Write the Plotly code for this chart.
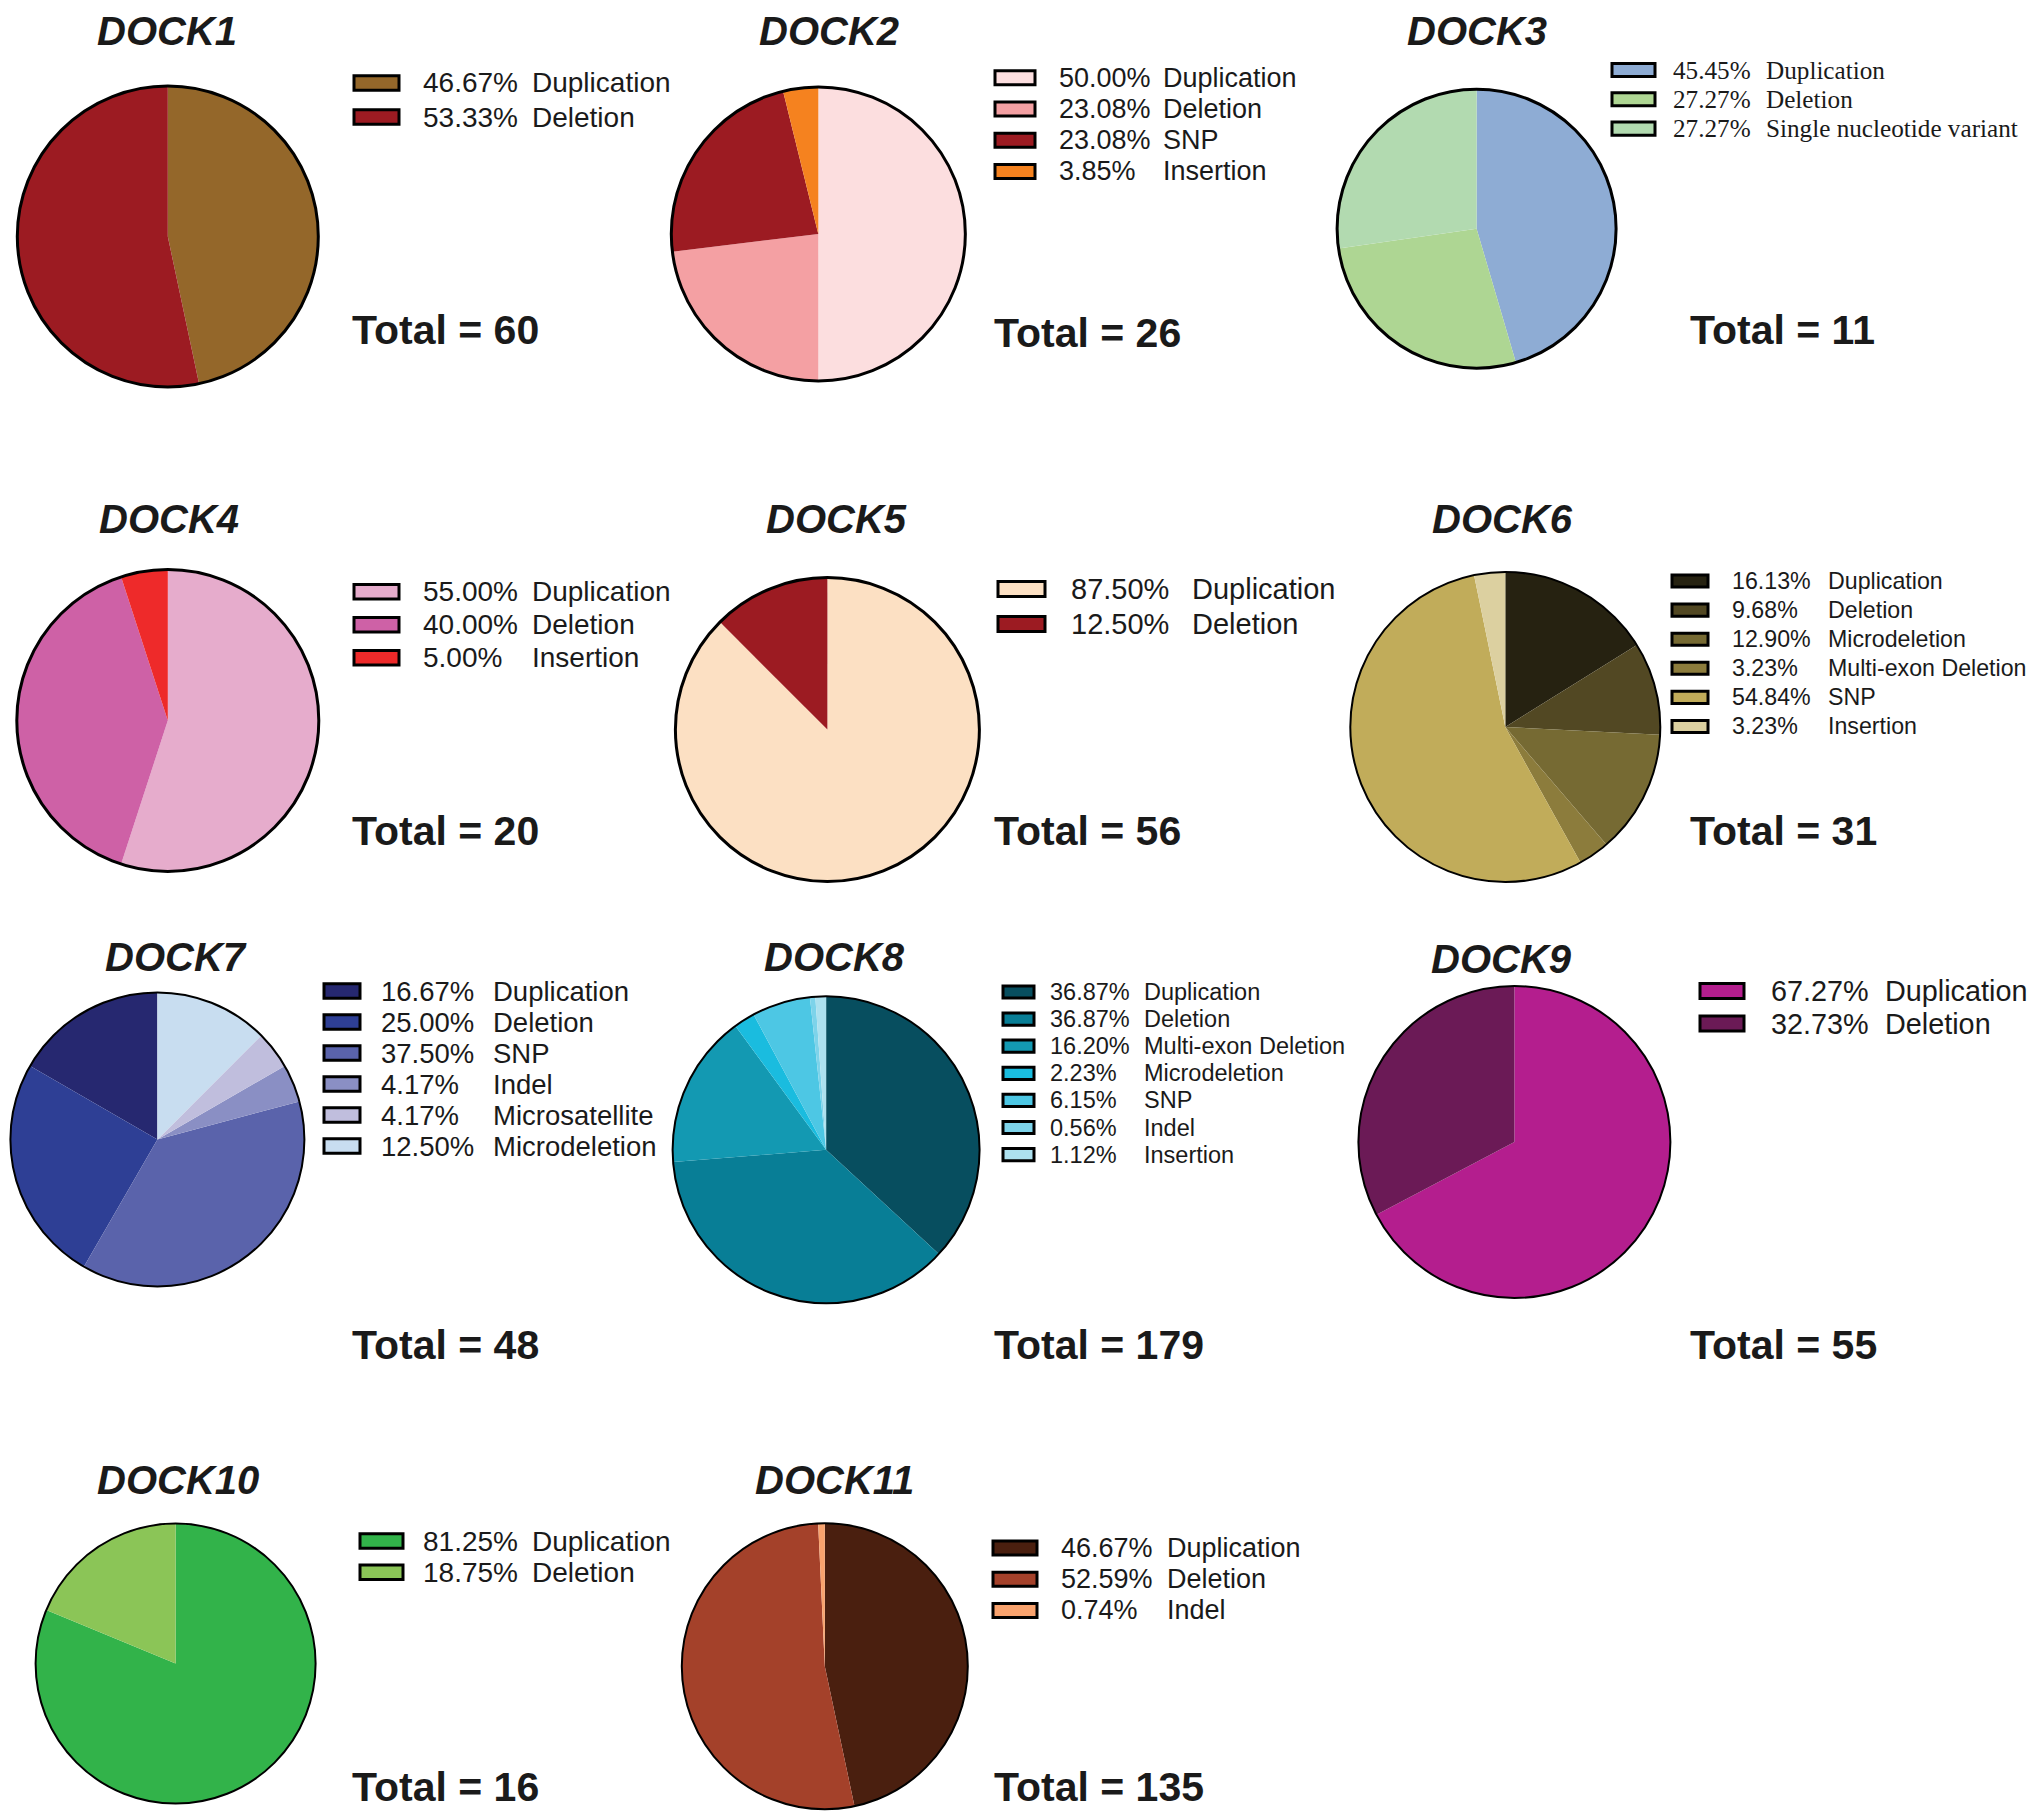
import plotly.graph_objects as go

# ---------------- DATA ----------------
genes = ["DOCK1", "DOCK2", "DOCK3", "DOCK4", "DOCK5", "DOCK6",
         "DOCK7", "DOCK8", "DOCK9", "DOCK10", "DOCK11"]
totals = [60, 26, 11, 20, 56, 31, 48, 179, 55, 16, 135]

dock1_labels = ["Duplication", "Deletion"]
dock1_values = [46.67, 53.33]
dock1_colors = ["#94672A", "#9C1B22"]

dock2_labels = ["Duplication", "Deletion", "SNP", "Insertion"]
dock2_values = [50.00, 23.08, 23.08, 3.85]
dock2_colors = ["#FCDEDF", "#F4A0A3", "#9C1B22", "#F5821F"]

dock3_labels = ["Duplication", "Deletion", "Single nucleotide variant"]
dock3_values = [45.45, 27.27, 27.27]
dock3_colors = ["#8EACD4", "#AED693", "#B2DAB0"]

dock4_labels = ["Duplication", "Deletion", "Insertion"]
dock4_values = [55.00, 40.00, 5.00]
dock4_colors = ["#E6ACCC", "#CE61A6", "#EE2A2A"]

dock5_labels = ["Duplication", "Deletion"]
dock5_values = [87.50, 12.50]
dock5_colors = ["#FCE0C3", "#9C1B22"]

dock6_labels = ["Duplication", "Deletion", "Microdeletion", "Multi-exon Deletion", "SNP", "Insertion"]
dock6_values = [16.13, 9.68, 12.90, 3.23, 54.84, 3.23]
dock6_colors = ["#262211", "#524823", "#766A33", "#8C7C3C", "#C1AC5A", "#DCD0A0"]

dock7_labels = ["Duplication", "Deletion", "SNP", "Indel", "Microsatellite", "Microdeletion"]
dock7_values = [16.67, 25.00, 37.50, 4.17, 4.17, 12.50]
dock7_colors = ["#262870", "#2E3F95", "#5A63AB", "#8A8FC4", "#C0BEDD", "#C8DDF0"]

dock8_labels = ["Duplication", "Deletion", "Multi-exon Deletion", "Microdeletion", "SNP", "Indel", "Insertion"]
dock8_values = [36.87, 36.87, 16.20, 2.23, 6.15, 0.56, 1.12]
dock8_colors = ["#074E5F", "#087E96", "#1399B2", "#1ABCDF", "#4DC7E4", "#7DD3EA", "#ADE1EF"]

dock9_labels = ["Duplication", "Deletion"]
dock9_values = [67.27, 32.73]
dock9_colors = ["#B41E8E", "#6B1A56"]

dock10_labels = ["Duplication", "Deletion"]
dock10_values = [81.25, 18.75]
dock10_colors = ["#32B34A", "#8BC557"]

dock11_labels = ["Duplication", "Deletion", "Indel"]
dock11_values = [46.67, 52.59, 0.74]
dock11_colors = ["#4A1F0F", "#A4412A", "#F9A36E"]

all_labels = [dock1_labels, dock2_labels, dock3_labels, dock4_labels, dock5_labels, dock6_labels,
              dock7_labels, dock8_labels, dock9_labels, dock10_labels, dock11_labels]
all_values = [dock1_values, dock2_values, dock3_values, dock4_values, dock5_values, dock6_values,
              dock7_values, dock8_values, dock9_values, dock10_values, dock11_values]
all_colors = [dock1_colors, dock2_colors, dock3_colors, dock4_colors, dock5_colors, dock6_colors,
              dock7_colors, dock8_colors, dock9_colors, dock10_colors, dock11_colors]
directions = ["clockwise"] * 6 + ["counterclockwise"] + ["clockwise"] * 4

# ---------------- LAYOUT (pixels) ----------------
W, H = 2040, 1814
DX, DY = -8, -7      # global nudge
TX = -3              # extra nudge for text (annotation padding)

# pie centre x, centre y, radius, outline width
pie_geom = [
    (167.8, 235.5, 150.5, 3), (818.3, 232.9, 147, 3), (1476.6, 227.7, 139.5, 3),
    (167.8, 719.5, 151, 3), (827.4, 728.6, 152, 3), (1505.3, 726.0, 155, 2),
    (157.4, 1138.4, 147, 2), (826.1, 1148.8, 153.5, 2), (1514.4, 1141.0, 156, 2),
    (175.6, 1662.6, 140, 2), (824.8, 1665.3, 143, 2),
]
# title centre x, centre y
title_pos = [(166.5, 21), (828.7, 21), (1476.6, 21),
             (169, 518), (836.5, 518), (1502.7, 518),
             (175.6, 956), (834, 956), (1501.4, 958),
             (178.2, 1479), (834, 1479)]
# legend: swatch left, swatch width, first row y, row step, pct x, label x, font size, font family
SANS = "Arial, Liberation Sans, sans-serif"
SERIF = "Times New Roman, Liberation Serif, serif"
leg_geom = [
    (354, 45, 82, 34, 424, 533, 28, SANS),
    (995, 40, 76.8, 31.2, 1060, 1164, 27, SANS),
    (1612, 43, 69, 29.3, 1674, 1767, 25.2, SERIF),
    (354, 45, 590.7, 33, 424, 533, 28, SANS),
    (998, 47, 588, 35, 1072, 1193, 29, SANS),
    (1672, 36, 580, 29.1, 1733, 1829, 23.2, SANS),
    (324, 36, 990, 31, 382, 494, 27.5, SANS),
    (1003, 31, 991, 27.1, 1051, 1145, 23.5, SANS),
    (1700, 44, 990, 32.5, 1772, 1886, 28.8, SANS),
    (360, 43, 1540, 31.2, 424, 533, 28, SANS),
    (993, 44, 1547, 31.2, 1062, 1168, 27, SANS),
]
total_pos = [(353, 329), (995, 332), (1691, 329),
             (353, 830), (995, 830), (1691, 830),
             (353, 1344), (995, 1344), (1691, 1344),
             (353, 1786), (995, 1786)]

fig = go.Figure()
annotations = []
shapes = []


def px_x(x, text=False):
    return (x + DX + (TX if text else 0)) / W


def px_y(y):
    return 1 - (y + DY) / H


for i, g in enumerate(genes):
    cx, cy, r, lw = pie_geom[i]
    cx, cy = cx + DX, cy + DY
    dom = dict(x=[(cx - r) / W, (cx + r) / W], y=[1 - (cy + r) / H, 1 - (cy - r) / H])
    vals = all_values[i]
    rot = 0
    if directions[i] == "counterclockwise":
        # plotly places the first ccw slice to the right of 12 o'clock; shift so it starts at 12
        rot = -360.0 * vals[0] / sum(vals)
    fig.add_trace(go.Pie(
        labels=all_labels[i], values=vals, name=g,
        marker=dict(colors=all_colors[i], line=dict(width=0)),
        sort=False, direction=directions[i], rotation=rot,
        textinfo="none", domain=dom, showlegend=False,
        hovertemplate="%{label}: %{value:.2f}%<extra>" + g + "</extra>",
    ))
    # outer outline
    fig.add_trace(go.Pie(
        labels=[g + " outline"], values=[1],
        marker=dict(colors=["rgba(0,0,0,0)"], line=dict(width=lw, color="black")),
        sort=False, textinfo="none", domain=dom, showlegend=False, hoverinfo="skip",
    ))

    tx, ty = title_pos[i]
    top = max(0.0, ty + DY - 23)
    annotations.append(dict(
        x=px_x(tx), y=1 - top / H, xref="paper", yref="paper", xanchor="center", yanchor="top",
        text="<b><i>" + g + "</i></b>", showarrow=False, borderpad=0,
        font=dict(family=SANS, size=40, color="#1a1a1a"),
    ))

    sl, sw, y0, dy, px, lx, fs, fam = leg_geom[i]
    for j, (lab, val, col) in enumerate(zip(all_labels[i], all_values[i], all_colors[i])):
        yy = y0 + j * dy
        sh = fs * 0.52
        shapes.append(dict(
            type="rect", xref="paper", yref="paper",
            x0=px_x(sl), x1=px_x(sl + sw), y0=px_y(yy + sh / 2), y1=px_y(yy - sh / 2),
            fillcolor=col, line=dict(color="black", width=3),
        ))
        annotations.append(dict(
            x=px_x(px, True), y=px_y(yy), xref="paper", yref="paper", xanchor="left", yanchor="middle",
            text=f"{val:.2f}%", showarrow=False, font=dict(family=fam, size=fs, color="#1a1a1a"),
        ))
        annotations.append(dict(
            x=px_x(lx, True), y=px_y(yy), xref="paper", yref="paper", xanchor="left", yanchor="middle",
            text=lab, showarrow=False, font=dict(family=fam, size=fs, color="#1a1a1a"),
        ))

    ttx, tty = total_pos[i]
    annotations.append(dict(
        x=px_x(ttx, True), y=px_y(tty), xref="paper", yref="paper", xanchor="left", yanchor="middle",
        text=f"<b>Total = {totals[i]}</b>", showarrow=False,
        font=dict(family=SANS, size=41, color="#1a1a1a"),
    ))

fig.update_layout(
    width=W, height=H, margin=dict(l=0, r=0, t=0, b=0),
    paper_bgcolor="white", plot_bgcolor="white",
    annotations=annotations, shapes=shapes, showlegend=False,
)

fig.write_html("out.html")
